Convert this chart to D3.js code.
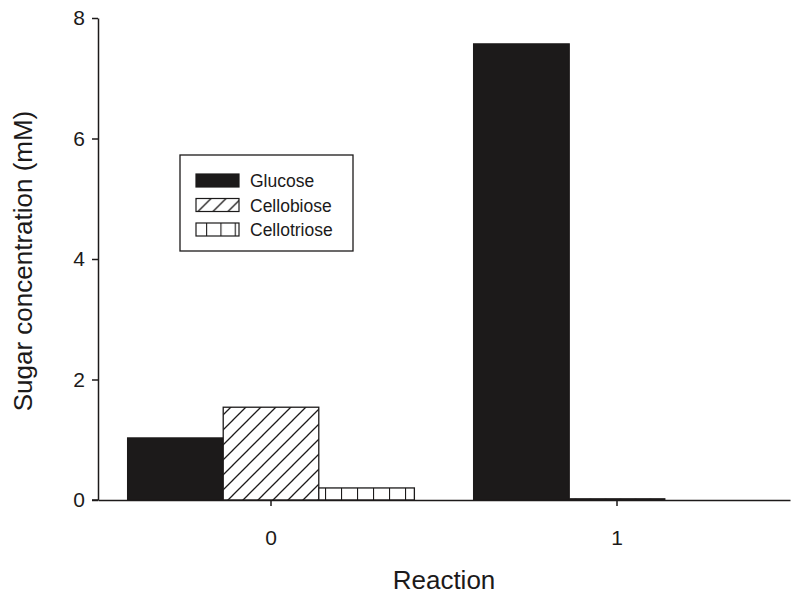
<!DOCTYPE html>
<html>
<head>
<meta charset="utf-8">
<script src="https://cdn.jsdelivr.net/npm/d3@7"></script>
<style>
  body { margin: 0; background: #fff; }
  svg { display: block; font-family: "Liberation Sans", Arial, sans-serif; }
</style>
</head>
<body>
<svg id="chart" width="800" height="600"></svg>
<script>
// data
var reactions = ["0", "1"];
var sugars = ["Glucose", "Cellobiose", "Cellotriose"];
var glucose = [1.03, 7.57];
var cellobiose = [1.54, 0.02];
var cellotriose = [0.20, 0.0];
var yTicks = [0, 2, 4, 6, 8];

var values = { Glucose: glucose, Cellobiose: cellobiose, Cellotriose: cellotriose };
var ink = "#1c1a1a";

var svg = d3.select("#chart");
// plot edges (note: "top" is taken by window.top)
var plotLeft = 98, plotRight = 790, plotTop = 18, plotBottom = 500;

// patterns for the bars
var defs = svg.append("defs");
var hatch = defs.append("pattern").attr("id", "hatch")
  .attr("patternUnits", "userSpaceOnUse").attr("width", 15).attr("height", 15);
hatch.append("rect").attr("width", 15).attr("height", 15).attr("fill", "#fff");
hatch.append("path").attr("d", "M-2,17 L17,-2 M-9,9 L9,-9 M6,24 L24,6")
  .attr("stroke", ink).attr("stroke-width", 1.3);
var vlines = defs.append("pattern").attr("id", "vlines")
  .attr("patternUnits", "userSpaceOnUse").attr("width", 16).attr("height", 40)
  .attr("x", 3);
vlines.append("rect").attr("width", 16).attr("height", 40).attr("fill", "#fff");
vlines.append("line").attr("x1", 0.5).attr("x2", 0.5).attr("y1", 0).attr("y2", 40)
  .attr("stroke", ink).attr("stroke-width", 1.2);
var vlinesLeg = defs.append("pattern").attr("id", "vlinesLeg")
  .attr("patternUnits", "userSpaceOnUse").attr("width", 14.3).attr("height", 40)
  .attr("x", 196);
vlinesLeg.append("rect").attr("width", 14.3).attr("height", 40).attr("fill", "#fff");
vlinesLeg.append("line").attr("x1", 0.5).attr("x2", 0.5).attr("y1", 0).attr("y2", 40)
  .attr("stroke", ink).attr("stroke-width", 1.2);

var fills = { Glucose: ink, Cellobiose: "url(#hatch)", Cellotriose: "url(#vlines)" };
var legFills = { Glucose: ink, Cellobiose: "url(#hatch)", Cellotriose: "url(#vlinesLeg)" };

var x0 = d3.scaleBand().domain(reactions).range([plotLeft, plotRight]).padding(0);
var x1 = d3.scaleBand().domain(sugars).range([0, x0.bandwidth()])
  .paddingInner(0).paddingOuter(0.31);
var y = d3.scaleLinear().domain([0, 8]).range([plotBottom, plotTop]);

// bars
var groups = svg.selectAll("g.grp").data(reactions).enter().append("g")
  .attr("class", "grp")
  .attr("transform", function(d) { return "translate(" + x0(d) + ",0)"; });

groups.selectAll("rect").data(function(d, i) {
    return sugars.map(function(s) { return { key: s, v: values[s][i] }; });
  }).enter().append("rect")
  .attr("x", function(d) { return x1(d.key); })
  .attr("y", function(d) { return y(d.v); })
  .attr("width", x1.bandwidth())
  .attr("height", function(d) { return y(0) - y(d.v); })
  .attr("fill", function(d) { return fills[d.key]; })
  .attr("stroke", ink).attr("stroke-width", 1.3);

// y axis
var yAxis = svg.append("g").attr("transform", "translate(" + plotLeft + ",0)")
  .call(d3.axisLeft(y).tickValues(yTicks).tickSize(6).tickSizeOuter(0).tickPadding(7));
yAxis.select(".domain").attr("stroke", ink).attr("stroke-width", 1.5);
yAxis.selectAll(".tick line").attr("stroke", ink).attr("stroke-width", 1.5);
yAxis.selectAll("text").attr("font-size", 21).attr("fill", ink)
  .attr("font-family", "Liberation Sans, Arial, sans-serif");

// x axis
var xAxis = svg.append("g").attr("transform", "translate(0," + plotBottom + ")")
  .call(d3.axisBottom(x0).tickSize(6).tickSizeOuter(0).tickPadding(24));
xAxis.select(".domain").attr("stroke", ink).attr("stroke-width", 1.5);
xAxis.selectAll(".tick line").attr("stroke", ink).attr("stroke-width", 1.5);
xAxis.selectAll("text").attr("font-size", 21).attr("fill", ink)
  .attr("font-family", "Liberation Sans, Arial, sans-serif");
// small stub of x axis past the y axis
svg.append("line").attr("x1", plotLeft - 6).attr("x2", plotLeft)
  .attr("y1", plotBottom).attr("y2", plotBottom)
  .attr("stroke", ink).attr("stroke-width", 1.5);

// axis titles
svg.append("text").attr("x", 444).attr("y", 589).attr("text-anchor", "middle")
  .attr("font-size", 26).attr("fill", ink).text("Reaction");
svg.append("text").attr("transform", "translate(32,261) rotate(-90)")
  .attr("text-anchor", "middle").attr("font-size", 26).attr("fill", ink)
  .text("Sugar concentration (mM)");

// legend
var legend = svg.append("g");
legend.append("rect").attr("x", 180).attr("y", 155).attr("width", 173).attr("height", 96)
  .attr("fill", "#fff").attr("stroke", ink).attr("stroke-width", 1.3);
var li = legend.selectAll("g.item").data(sugars).enter().append("g").attr("class", "item")
  .attr("transform", function(d, i) { return "translate(196," + (174 + i * 24.5) + ")"; });
li.append("rect").attr("width", 43).attr("height", 13)
  .attr("fill", function(d) { return legFills[d]; })
  .attr("stroke", ink).attr("stroke-width", 1.2);
li.append("text").attr("x", 54).attr("y", 13).attr("font-size", 17.5).attr("fill", ink)
  .text(function(d) { return d; });
</script>
</body>
</html>
